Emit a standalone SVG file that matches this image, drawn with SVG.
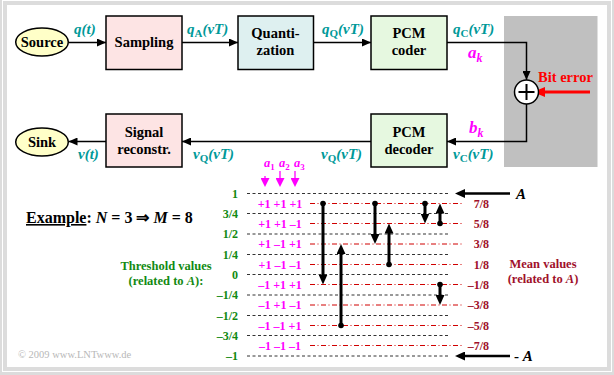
<svg xmlns="http://www.w3.org/2000/svg" width="614" height="375" viewBox="0 0 614 375">
<defs>
<style>
.box{stroke:#000;stroke-width:1.5}
.bt{font-family:"Liberation Serif",serif;font-weight:bold;font-size:14.5px;fill:#000;text-anchor:middle}
.sig{font-family:"Liberation Serif",serif;font-weight:bold;font-style:italic;font-size:15px;fill:#009999}
.mag{font-family:"Liberation Serif",serif;font-weight:bold;font-size:12px;fill:#ff00ff}
.thr{font-family:"Liberation Serif",serif;font-weight:bold;font-size:12px;fill:#128a12;text-anchor:end}
.mean{font-family:"Liberation Serif",serif;font-weight:bold;font-size:12px;fill:#a0102a;text-anchor:end}
.conn{fill:none;stroke:#000;stroke-width:1.5}
.th{stroke:#333;stroke-width:1;stroke-dasharray:3,2.5}
.mv{stroke:#d00000;stroke-width:1;stroke-dasharray:5,2.5,1,2.5}
.big{stroke:#000;stroke-width:3;fill:none}
</style>
<marker id="h" markerUnits="userSpaceOnUse" markerWidth="9" markerHeight="8" refX="9" refY="4" orient="auto"><path d="M0,0 L9,4 L0,8 z" fill="#000"/></marker>
<marker id="hr" markerUnits="userSpaceOnUse" markerWidth="12" markerHeight="10" refX="3" refY="5" orient="auto"><path d="M0,0 L12,5 L0,10 z" fill="#ff0000"/></marker>
<marker id="hb" markerUnits="userSpaceOnUse" markerWidth="10" markerHeight="9" refX="2" refY="4.5" orient="auto"><path d="M0,0 L10,4.5 L0,9 z" fill="#000"/></marker>
<marker id="hm" markerUnits="userSpaceOnUse" markerWidth="9" markerHeight="9" refX="2" refY="4.5" orient="auto"><path d="M0,0 L9,4.5 L0,9 z" fill="#ff00ff"/></marker>
</defs>

<rect x="0" y="0" width="614" height="375" fill="#dcdcdc"/>
<rect x="2.5" y="0.5" width="609" height="371" fill="none" stroke="#fff" stroke-width="1"/>
<rect x="7" y="5" width="600" height="362" fill="#fff"/>

<rect x="504" y="16" width="93.5" height="151" fill="#c0c0c0"/>

<g id="connectors">
<path class="conn" d="M68.5,42.5 H106" marker-end="url(#h)"/>
<path class="conn" d="M182,42.5 H238" marker-end="url(#h)"/>
<path class="conn" d="M313,42.5 H371" marker-end="url(#h)"/>
<path class="conn" d="M447,42.5 H526.5 V80" marker-end="url(#h)"/>
<path d="M590,92 H542" stroke="#ff0000" stroke-width="3" fill="none" marker-end="url(#hr)"/>
<path class="conn" d="M526.5,104 V141.5 H447" marker-end="url(#h)"/>
<path class="conn" d="M371,141.5 H182" marker-end="url(#h)"/>
<path class="conn" d="M106,141.5 H68.5" marker-end="url(#h)"/>
</g>

<g id="source"><ellipse cx="42" cy="42" rx="26.3" ry="14" fill="#ffffc8" class="box"/><text class="bt" x="42" y="46.5">Source</text></g>
<g id="sampling"><rect x="106" y="16" width="76" height="53.5" fill="#fde4e4" class="box"/><text class="bt" x="144" y="47">Sampling</text></g>
<g id="quantization"><rect x="238" y="16" width="75.5" height="53.5" fill="#def0f0" class="box"/><text class="bt" x="275.5" y="38">Quanti-</text><text class="bt" x="275.5" y="55">zation</text></g>
<g id="pcm-coder"><rect x="371" y="16" width="76" height="53.5" fill="#e6f8e0" class="box"/><text class="bt" x="409" y="38">PCM</text><text class="bt" x="409" y="55">coder</text></g>
<g id="adder"><circle cx="526.5" cy="92" r="12" fill="#fff" class="box"/><path d="M518.5,92 H534.5 M526.5,84 V100" stroke="#000" stroke-width="2"/></g>
<g id="sink"><ellipse cx="42" cy="142" rx="26.3" ry="14" fill="#ffffc8" class="box"/><text class="bt" x="42" y="146.5">Sink</text></g>
<g id="reconstr"><rect x="106" y="114" width="76" height="53" fill="#fde4e4" class="box"/><text class="bt" x="144" y="137">Signal</text><text class="bt" x="144" y="154">reconstr.</text></g>
<g id="pcm-decoder"><rect x="371" y="114" width="76" height="53" fill="#e6f8e0" class="box"/><text class="bt" x="409" y="137">PCM</text><text class="bt" x="409" y="154">decoder</text></g>

<text x="538" y="82" font-family="Liberation Serif,serif" font-weight="bold" font-size="14.5" fill="#ff0000">Bit error</text>

<text class="sig" x="74" y="34">q(t)</text>
<text class="sig" x="187" y="34">q<tspan font-size="11" font-style="normal" dy="3">A</tspan><tspan dy="-3">(vT)</tspan></text>
<text class="sig" x="322" y="34">q<tspan font-size="11" font-style="normal" dy="3">Q</tspan><tspan dy="-3">(vT)</tspan></text>
<text class="sig" x="453" y="34">q<tspan font-size="11" font-style="normal" dy="3">C</tspan><tspan dy="-3">(vT)</tspan></text>
<text class="sig" x="78" y="159">v(t)</text>
<text class="sig" x="193" y="159">v<tspan font-size="11" font-style="normal" dy="3">Q</tspan><tspan dy="-3">(vT)</tspan></text>
<text class="sig" x="321" y="159">v<tspan font-size="11" font-style="normal" dy="3">Q</tspan><tspan dy="-3">(vT)</tspan></text>
<text class="sig" x="453" y="159">v<tspan font-size="11" font-style="normal" dy="3">C</tspan><tspan dy="-3">(vT)</tspan></text>
<text x="468" y="58" font-family="Liberation Serif,serif" font-weight="bold" font-style="italic" font-size="17" fill="#ff00ff">a<tspan font-size="12" dy="4">k</tspan></text>
<text x="469" y="133" font-family="Liberation Serif,serif" font-weight="bold" font-style="italic" font-size="17" fill="#ff00ff">b<tspan font-size="12" dy="4">k</tspan></text>

<g>
<line class="th" x1="247" y1="193.5" x2="448" y2="193.5"/>
<line class="th" x1="247" y1="213.5" x2="448" y2="213.5"/>
<line class="th" x1="247" y1="234" x2="448" y2="234"/>
<line class="th" x1="247" y1="254.5" x2="448" y2="254.5"/>
<line class="th" x1="247" y1="274.5" x2="448" y2="274.5"/>
<line class="th" x1="247" y1="295" x2="448" y2="295"/>
<line class="th" x1="247" y1="315.5" x2="448" y2="315.5"/>
<line class="th" x1="247" y1="335.5" x2="448" y2="335.5"/>
<line class="th" x1="247" y1="356" x2="448" y2="356"/>
<line class="mv" x1="310" y1="203.5" x2="464" y2="203.5"/>
<line class="mv" x1="310" y1="223.5" x2="464" y2="223.5"/>
<line class="mv" x1="310" y1="244" x2="464" y2="244"/>
<line class="mv" x1="310" y1="264.5" x2="464" y2="264.5"/>
<line class="mv" x1="310" y1="284.5" x2="464" y2="284.5"/>
<line class="mv" x1="310" y1="305" x2="464" y2="305"/>
<line class="mv" x1="310" y1="325.5" x2="464" y2="325.5"/>
<line class="mv" x1="310" y1="345.5" x2="464" y2="345.5"/>
</g>

<text class="thr" x="238" y="197.5">1</text>
<text class="thr" x="238" y="217.5">3/4</text>
<text class="thr" x="238" y="238">1/2</text>
<text class="thr" x="238" y="258.5">1/4</text>
<text class="thr" x="238" y="278.5">0</text>
<text class="thr" x="238" y="299">–1/4</text>
<text class="thr" x="238" y="319.5">–1/2</text>
<text class="thr" x="238" y="339.5">–3/4</text>
<text class="thr" x="238" y="360">–1</text>

<text class="mean" x="489" y="207.5">7/8</text>
<text class="mean" x="489" y="227.5">5/8</text>
<text class="mean" x="489" y="248">3/8</text>
<text class="mean" x="489" y="268.5">1/8</text>
<text class="mean" x="489" y="288.5">–1/8</text>
<text class="mean" x="489" y="309">–3/8</text>
<text class="mean" x="489" y="329.5">–5/8</text>
<text class="mean" x="489" y="349.5">–7/8</text>

<g text-anchor="middle">
<text class="mag" x="280" y="207.5">+1 +1 +1</text>
<text class="mag" x="280" y="227.5">+1 +1 –1</text>
<text class="mag" x="280" y="248">+1 –1 +1</text>
<text class="mag" x="280" y="268.5">+1 –1 –1</text>
<text class="mag" x="280" y="288.5">–1 +1 +1</text>
<text class="mag" x="280" y="309">–1 +1 –1</text>
<text class="mag" x="280" y="329.5">–1 –1 +1</text>
<text class="mag" x="280" y="349.5">–1 –1 –1</text>
</g>

<g font-family="Liberation Serif,serif" font-weight="bold" font-style="italic" font-size="12.5" fill="#ff00ff">
<text x="264" y="167">a<tspan font-size="9" font-style="normal" dy="3">1</tspan></text>
<text x="279" y="167">a<tspan font-size="9" font-style="normal" dy="3">2</tspan></text>
<text x="294" y="167">a<tspan font-size="9" font-style="normal" dy="3">3</tspan></text>
</g>
<g stroke="#ff00ff" stroke-width="1.3">
<line x1="265" y1="176" x2="265" y2="180" marker-end="url(#hm)"/>
<line x1="280" y1="171" x2="280" y2="180" marker-end="url(#hm)"/>
<line x1="295" y1="171" x2="295" y2="180" marker-end="url(#hm)"/>
</g>

<g>
<line class="big" x1="323" y1="203.5" x2="323" y2="276.5" marker-end="url(#hb)"/><circle cx="323" cy="203.5" r="2.8"/>
<line class="big" x1="341" y1="325.5" x2="341" y2="252" marker-end="url(#hb)"/><circle cx="341" cy="325.5" r="2.8"/>
<line class="big" x1="375" y1="203.5" x2="375" y2="236" marker-end="url(#hb)"/><circle cx="375" cy="203.5" r="2.8"/>
<line class="big" x1="389" y1="264.5" x2="389" y2="231.5" marker-end="url(#hb)"/><circle cx="389" cy="264.5" r="2.8"/>
<line class="big" x1="425" y1="203.5" x2="425" y2="215.5" marker-end="url(#hb)"/><circle cx="425" cy="203.5" r="2.8"/>
<line class="big" x1="440" y1="223.5" x2="440" y2="211.5" marker-end="url(#hb)"/><circle cx="440" cy="223.5" r="2.8"/>
<line class="big" x1="440" y1="284.5" x2="440" y2="297" marker-end="url(#hb)"/><circle cx="440" cy="284.5" r="2.8"/>
</g>

<line x1="510" y1="193.5" x2="463" y2="193.5" stroke="#000" stroke-width="2.5" marker-end="url(#hb)"/>
<line x1="510" y1="356" x2="463" y2="356" stroke="#000" stroke-width="2.5" marker-end="url(#hb)"/>
<text x="516" y="198.5" font-family="Liberation Serif,serif" font-weight="bold" font-style="italic" font-size="15" fill="#000">A</text>
<text x="514" y="360.5" font-family="Liberation Serif,serif" font-weight="bold" font-size="15" fill="#000">- <tspan font-style="italic">A</tspan></text>

<g font-family="Liberation Serif,serif" font-weight="bold" font-size="12.5" text-anchor="middle">
<text x="166" y="270" fill="#128a12">Threshold values</text>
<text x="166" y="284.5" fill="#128a12">(related to <tspan font-style="italic">A</tspan>):</text>
<text x="543" y="268" fill="#a0102a">Mean values</text>
<text x="543" y="282.5" fill="#a0102a">(related to <tspan font-style="italic">A</tspan>)</text>
</g>

<text x="26" y="223" font-family="Liberation Serif,serif" font-weight="bold" font-size="16" fill="#000"><tspan text-decoration="underline">Example</tspan>: <tspan font-style="italic">N</tspan> = 3 ⇒ <tspan font-style="italic">M</tspan> = 8</text>

<text x="18" y="358" font-family="Liberation Serif,serif" font-size="10.5" fill="#b8b8b8">© 2009 www.LNTwww.de</text>
</svg>
